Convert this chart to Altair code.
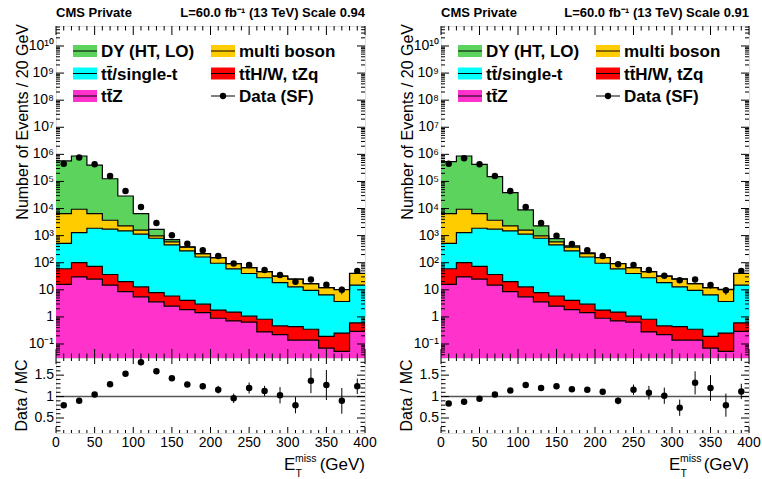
import altair as alt
import numpy as np
import pandas as pd

FONT = "Liberation Sans"

# ---------------- data ----------------
bin_edges = list(range(0, 401, 20))
bin_centers = [e + 10 for e in bin_edges[:-1]]

process_keys = ["ttz", "ttx", "ttbar", "vv", "dy"]          # stacking order, bottom -> top
process_colors = ["#ff33cc", "#ff0000", "#00ffff", "#ffcc00", "#5bd35c"]
process_labels = {
    "dy": "DY (HT, LO)",
    "vv": "multi boson",
    "ttbar": "tt\u0304/single-t",
    "ttx": "tt\u0304H/W, tZq",
    "ttz": "tt\u0304Z",
    "data": "Data (SF)",
}

ttz_yield = [16, 30, 24.6, 14.8, 8.6, 5.5, 3.6, 2.5, 1.86, 1.44, 0.89, 0.71, 0.64, 0.28, 0.22, 0.14, 0.14, 0.07, 0.053, 0.29]
ttx_yield = [44, 70, 49, 22, 11.4, 7.3, 4.3, 3.4, 2.2, 1.5, 0.9, 0.8, 0.42, 0.54, 0.25, 0.3, 0.21, 0.12, 0.2, 0.31]
ttbar_yield = [460, 1190, 1800, 1690, 1470, 1117, 792, 449, 268, 160, 94, 57.5, 39, 27, 18, 12.5, 9.2, 6.3, 3.45, 14.4]
vv_yield = [5980, 8110, 4630, 1970, 810, 470, 180, 135, 103, 52, 59, 34, 26, 19, 13.6, 12, 7.4, 5.5, 6.5, 25]
dy_yield_left = [563500, 860600, 393500, 122300, 26700, 4900, 720, 120, 8, 3, 0.5, 0.3, 0.2, 0.2, 0.1, 0.1, 0.1, 0.1, 0.05, 0.1]
dy_yield_right = [534200, 860600, 423300, 146100, 36700, 7300, 1320, 185, 45, 15, 1, 0.5, 0.3, 0.3, 0.2, 0.2, 0.1, 0.1, 0.1, 0.3]

data_left = [4.5e5, 7.6e5, 4.3e5, 1.6e5, 4.4e4, 1.15e4, 2900, 1030, 505, 290, 178, 93, 83, 54, 35, 20, 24, 15.5, 10, 50]
data_right = [4.5e5, 7.2e5, 4.3e5, 1.6e5, 4.4e4, 1.15e4, 2900, 1000, 490, 290, 178, 88, 83, 54, 33, 22.6, 24, 15, 9.6, 50]
data_err_left = [670, 870, 660, 400, 210, 107, 54, 32, 22, 17, 13, 10, 9, 7.3, 5.9, 4.5, 4.9, 3.9, 3.2, 7.1]
data_err_right = [670, 850, 660, 400, 210, 107, 54, 32, 22, 17, 13, 9.4, 9, 7.3, 5.7, 4.8, 4.9, 3.9, 3.1, 7.1]

ratio_left = [0.80, 0.90, 1.05, 1.29, 1.53, 1.80, 1.59, 1.43, 1.28, 1.24, 1.16, 0.96, 1.20, 1.13, 1.03, 0.80, 1.37, 1.27, 0.90, 1.24]
ratio_left_err = [0.01, 0.01, 0.01, 0.01, 0.01, 0.02, 0.03, 0.05, 0.06, 0.07, 0.09, 0.11, 0.13, 0.12, 0.19, 0.19, 0.29, 0.35, 0.30, 0.18]
ratio_right = [0.84, 0.88, 0.95, 1.05, 1.14, 1.27, 1.20, 1.24, 1.17, 1.16, 1.11, 0.90, 1.16, 1.09, 1.02, 0.74, 1.32, 1.20, 0.80, 1.12]
ratio_right_err = [0.01, 0.01, 0.01, 0.01, 0.01, 0.01, 0.02, 0.04, 0.05, 0.06, 0.06, 0.08, 0.12, 0.16, 0.19, 0.19, 0.27, 0.30, 0.27, 0.18]

header_left = "CMS Private"
lumi_left = "L=60.0 fb\u207b\u00b9 (13 TeV) Scale 0.94"
lumi_right = "L=60.0 fb\u207b\u00b9 (13 TeV) Scale 0.91"

x_tick_values = [0, 50, 100, 150, 200, 250, 300, 350, 400]
x_tick_labels = ["0", "50", "100", "150", "200", "250", "300", "350", "400"]
y_log_tick_values = [0.1, 1, 10, 1e2, 1e3, 1e4, 1e5, 1e6, 1e7, 1e8, 1e9, 1e10]
y_log_tick_labels = ["10\u207b\u00b9", "1", "10", "10\u00b2", "10\u00b3", "10\u2074", "10\u2075",
                     "10\u2076", "10\u2077", "10\u2078", "10\u2079", "10\u00b9\u2070"]
ratio_tick_values = [0.5, 1.0, 1.5]
ratio_tick_labels = ["0.5", "1", "1.5"]

# ---------------- layout ----------------
W_L, W_R = 309, 308
H_UP, H_LO = 332, 75
Y_LO, Y_HI = 10 ** -1.517, 10 ** 10.738
R_LO, R_HI = 0.15, 1.9

one = pd.DataFrame({"a": [0]})
xs = alt.Scale(domain=[0, 400], nice=False, zero=False)
ys = alt.Scale(type="log", domain=[Y_LO, Y_HI], nice=False)
rs = alt.Scale(domain=[R_LO, R_HI], nice=False, zero=False)

y_minor = [k * 10.0 ** e for e in range(-2, 11) for k in range(2, 10) if Y_LO <= k * 10.0 ** e <= Y_HI]
x_minor = [v for v in range(10, 400, 10) if v % 50]
r_minor = [round(v, 1) for v in np.arange(0.2, 1.85, 0.1) if round(v, 1) not in (0.5, 1.0, 1.5)]


def tick_layers(W, H, yvals_major, yvals_minor, yscale, ylen_major, ylen_minor, xlen_major, xlen_minor):
    layers = []
    for vals, ln in ((yvals_major, ylen_major), (yvals_minor, ylen_minor)):
        df = pd.DataFrame({"v": vals})
        for x0, x1 in ((0, ln), (W, W - ln)):
            layers.append(alt.Chart(df).mark_rule(color="black", strokeWidth=1).encode(
                y=alt.Y("v:Q", scale=yscale, axis=None), x=alt.value(x0), x2=alt.value(x1)))
    for vals, ln in ((x_tick_values, xlen_major), (x_minor, xlen_minor)):
        df = pd.DataFrame({"v": vals})
        for y0, y1 in ((H, H - ln), (0, ln)):
            layers.append(alt.Chart(df).mark_rule(color="black", strokeWidth=1).encode(
                x=alt.X("v:Q", scale=xs, axis=None), y=alt.value(y0), y2=alt.value(y1)))
    return layers


def y_label_layer(values, labels, yscale, size=14):
    df = pd.DataFrame({"v": values, "lab": labels})
    return alt.Chart(df).mark_text(font=FONT, fontSize=size, align="right", baseline="middle",
                                   color="black").encode(
        y=alt.Y("v:Q", scale=yscale, axis=None), x=alt.value(-2), text="lab:N")


def legend_layers():
    layers = []
    entries = [("dy", 0, 0), ("ttbar", 0, 1), ("ttz", 0, 2), ("vv", 1, 0), ("ttx", 1, 1), ("data", 1, 2)]
    col_x = [17, 155]
    row_y = [25, 47.5, 70]
    colmap = dict(zip(process_keys, process_colors))
    for key, c, r in entries:
        x0, yc = col_x[c], row_y[r]
        if key != "data":
            layers.append(alt.Chart(one).mark_rect(color=colmap[key]).encode(
                x=alt.value(x0), x2=alt.value(x0 + 24), y=alt.value(yc - 6), y2=alt.value(yc + 6)))
        layers.append(alt.Chart(one).mark_rule(color="black", strokeWidth=1).encode(
            x=alt.value(x0), x2=alt.value(x0 + 24), y=alt.value(yc)))
        if key == "data":
            layers.append(alt.Chart(one).mark_circle(color="black", opacity=1, size=40).encode(
                x=alt.value(x0 + 12), y=alt.value(yc)))
        layers.append(alt.Chart(one).mark_text(
            text=process_labels[key], font=FONT, fontSize=17, fontWeight="bold", align="left",
            baseline="middle", color="black").encode(x=alt.value(x0 + 28), y=alt.value(yc + 1)))
    return layers


def upper_chart(dy_yield, data_counts, data_err, lumi, W, anchor=False):
    yields = [ttz_yield, ttx_yield, ttbar_yield, vv_yield, dy_yield]
    rows = []
    cum = np.zeros(len(bin_centers))
    for key, yl in zip(process_keys, yields):
        lo = cum.copy()
        cum = cum + np.array(yl, dtype=float)
        for i, e in enumerate(bin_edges):
            j = min(i, len(bin_centers) - 1)
            rows.append({"proc": key, "x": e, "top": cum[j], "bottom": lo[j] if lo[j] > 0 else Y_LO})
    df = pd.DataFrame(rows)

    areas = alt.Chart(df).mark_area(interpolate="step-after", clip=True).encode(
        x=alt.X("x:Q", scale=xs, axis=None),
        y=alt.Y("top:Q", scale=ys, stack=None, axis=None),
        y2="bottom:Q",
        color=alt.Color("proc:N", scale=alt.Scale(domain=process_keys, range=process_colors), legend=None),
    )
    lines = alt.Chart(df).mark_line(interpolate="step-after", color="black", strokeWidth=1.2, clip=True).encode(
        x=alt.X("x:Q", scale=xs, axis=None),
        y=alt.Y("top:Q", scale=ys, axis=None),
        detail="proc:N",
    )
    ddf = pd.DataFrame({"x": bin_centers, "n": data_counts, "e": data_err})
    ddf["lo"] = ddf["n"] - ddf["e"]
    ddf["hi"] = ddf["n"] + ddf["e"]
    errs = alt.Chart(ddf).mark_rule(color="black", strokeWidth=1).encode(
        x=alt.X("x:Q", scale=xs, axis=None), y=alt.Y("lo:Q", scale=ys, axis=None), y2="hi:Q")
    pts = alt.Chart(ddf).mark_circle(color="black", opacity=1, size=42).encode(
        x=alt.X("x:Q", scale=xs, axis=None), y=alt.Y("n:Q", scale=ys, axis=None))

    texts = [
        alt.Chart(one).mark_text(text=header_left, font=FONT, fontSize=13, fontWeight="bold", align="left",
                                 baseline="alphabetic", color="black").encode(x=alt.value(0), y=alt.value(-9)),
        alt.Chart(one).mark_text(text=lumi, font=FONT, fontSize=13, fontWeight="bold", align="right",
                                 baseline="alphabetic", color="black").encode(x=alt.value(W), y=alt.value(-9)),
        alt.Chart(one).mark_text(text="Number of Events / 20 GeV", font=FONT, fontSize=16, angle=270,
                                 align="right", baseline="alphabetic", color="black").encode(
            x=alt.value(-28.5), y=alt.value(-2)),
        y_label_layer(y_log_tick_values, y_log_tick_labels, ys, 14),
    ]
    layers = [areas, lines, errs, pts] + legend_layers() + texts + tick_layers(
        W, H_UP, y_log_tick_values, y_minor, ys, 8, 4, 9, 4.5)
    if anchor:
        layers.append(alt.Chart(one).mark_rect(color="white").encode(
            x=alt.value(-55), x2=alt.value(-54), y=alt.value(-25), y2=alt.value(-24)))
    return alt.layer(*layers).properties(width=W, height=H_UP)


def lower_chart(ratio, ratio_err, W):
    rdf = pd.DataFrame({"x": bin_centers, "r": ratio, "e": ratio_err})
    rdf["lo"] = rdf["r"] - rdf["e"]
    rdf["hi"] = rdf["r"] + rdf["e"]
    unity = alt.Chart(pd.DataFrame({"y": [1.0]})).mark_rule(color="#555555", strokeWidth=1.5).encode(
        y=alt.Y("y:Q", scale=rs, axis=None), x=alt.value(0), x2=alt.value(W))
    errs = alt.Chart(rdf).mark_rule(color="black", strokeWidth=1).encode(
        x=alt.X("x:Q", scale=xs, axis=None), y=alt.Y("lo:Q", scale=rs, axis=None), y2="hi:Q")
    pts = alt.Chart(rdf).mark_circle(color="black", opacity=1, size=42).encode(
        x=alt.X("x:Q", scale=xs, axis=None), y=alt.Y("r:Q", scale=rs, axis=None))
    xlab = alt.Chart(pd.DataFrame({"v": x_tick_values, "lab": x_tick_labels})).mark_text(
        font=FONT, fontSize=14, align="center", baseline="top", color="black").encode(
        x=alt.X("v:Q", scale=xs, axis=None), y=alt.value(H_LO + 3), text="lab:N")
    texts = [
        y_label_layer(ratio_tick_values, ratio_tick_labels, rs, 14),
        xlab,
        alt.Chart(one).mark_text(text="Data / MC", font=FONT, fontSize=16, angle=270, align="center",
                                 baseline="alphabetic", color="black").encode(
            x=alt.value(-29.5), y=alt.value(H_LO / 2)),
        alt.Chart(one).mark_text(text="E", font=FONT, fontSize=17, align="left", baseline="alphabetic",
                                 color="black").encode(x=alt.value(228), y=alt.value(112)),
        alt.Chart(one).mark_text(text="miss", font=FONT, fontSize=10.5, align="left", baseline="alphabetic",
                                 color="black").encode(x=alt.value(239), y=alt.value(104)),
        alt.Chart(one).mark_text(text="T", font=FONT, fontSize=10.5, align="left", baseline="alphabetic",
                                 color="black").encode(x=alt.value(239.5), y=alt.value(119)),
        alt.Chart(one).mark_text(text="(GeV)", font=FONT, fontSize=17, align="right", baseline="alphabetic",
                                 color="black").encode(x=alt.value(W), y=alt.value(112)),
    ]
    layers = [unity, errs, pts] + texts + tick_layers(W, H_LO, ratio_tick_values, r_minor, rs, 8, 4.5, 6, 3)
    return alt.layer(*layers).properties(width=W, height=H_LO)


upL = upper_chart(dy_yield_left, data_left, data_err_left, lumi_left, W_L, anchor=True)
upR = upper_chart(dy_yield_right, data_right, data_err_right, lumi_right, W_R)
loL = lower_chart(ratio_left, ratio_left_err, W_L)
loR = lower_chart(ratio_right, ratio_right_err, W_R)

chart = alt.concat(upL, upR, loL, loR, columns=2, spacing={"row": 0, "column": 76},
                   bounds="flush", align="each").resolve_scale(
    x="independent", y="independent").properties(
    padding={"left": 0, "top": 0, "right": 0, "bottom": 0}, background="white").configure_view(
    stroke="black", strokeWidth=1.2).configure(font=FONT)

chart.save("out.html", embed_options={"renderer": "svg", "actions": False})
